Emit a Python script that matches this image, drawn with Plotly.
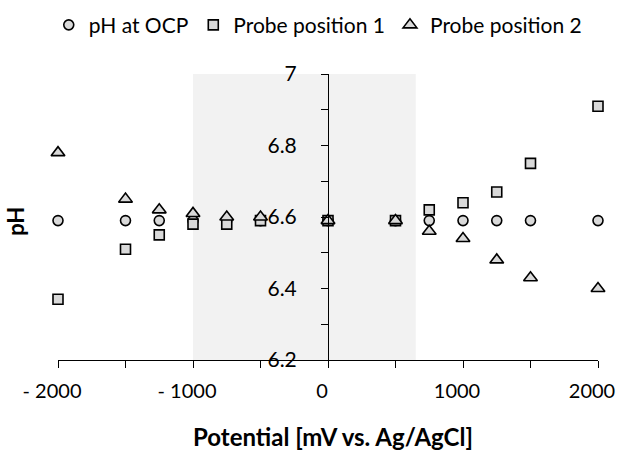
import plotly.graph_objects as go

potential = [-2000, -1500, -1250, -1000, -750, -500, 0, 500, 750, 1000, 1250, 1500, 2000]
ph_ocp = [6.59, 6.59, 6.59, 6.59, 6.59, 6.59, 6.59, 6.59, 6.59, 6.59, 6.59, 6.59, 6.59]
probe1 = [6.37, 6.51, 6.55, 6.58, 6.58, 6.59, 6.59, 6.59, 6.62, 6.64, 6.67, 6.75, 6.91]
probe2 = [6.78, 6.65, 6.62, 6.61, 6.60, 6.60, 6.59, 6.59, 6.56, 6.54, 6.48, 6.43, 6.40]

x_tickvals = [-2000, -1500, -1000, -500, 0, 500, 1000, 1500, 2000]
x_ticktext = ["- 2000", "", "- 1000", "", "0", "", "1000", "", "2000"]
y_tickvals = [6.2, 6.3, 6.4, 6.5, 6.6, 6.7, 6.8, 6.9, 7.0]
y_ticktext = ["6.2", "", "6.4", "", "6.6", "", "6.8", "", "7"]
shade_range = [-1000, 650]

FONT = "Lato"
fill = "#d9d9d9"
line = dict(color="black", width=1.6)

fig = go.Figure()
fig.add_trace(go.Scatter(x=potential, y=ph_ocp, mode="markers", name="pH at OCP", cliponaxis=False,
                         marker=dict(symbol="circle", size=10, color=fill, line=line)))
fig.add_trace(go.Scatter(x=potential, y=probe1, mode="markers", name="Probe position 1", cliponaxis=False,
                         marker=dict(symbol="square", size=10, color=fill, line=line)))
fig.add_trace(go.Scatter(x=potential, y=probe2, mode="markers", name="Probe position 2", cliponaxis=False,
                         marker=dict(symbol="triangle-up", size=12, color=fill, line=line)))

fig.add_shape(type="rect", xref="x", yref="y", x0=shade_range[0], x1=shade_range[1],
              y0=6.2, y1=7.0, fillcolor="#f2f2f2", line=dict(width=0), layer="below")

fig.update_layout(
    width=617, height=450,
    margin=dict(l=58, r=19, t=74, b=90, autoexpand=False),
    plot_bgcolor="white", paper_bgcolor="white",
    font=dict(family=FONT, size=21, color="black"),
    showlegend=True,
    legend=dict(orientation="h", x=0.515, xanchor="center", xref="container",
                y=0.944, yanchor="middle", yref="container",
                font=dict(size=21), itemsizing="trace", traceorder="normal",
                bgcolor="rgba(0,0,0,0)"),
    xaxis=dict(range=[-2000, 2000], tickvals=x_tickvals, ticktext=x_ticktext,
               ticks="outside", ticklen=7, tickcolor="black", tickwidth=1,
               showline=True, linecolor="black", linewidth=1, showgrid=False,
               zeroline=False, tickfont=dict(size=20), ticklabelstandoff=6,
               ticklabelshift=-6, ticklabeloverflow="allow", automargin=False),
    yaxis=dict(range=[6.2, 7.0], tickvals=y_tickvals, ticktext=y_ticktext,
               ticks="outside", ticklen=7, tickcolor="black", tickwidth=1,
               showline=True, linecolor="black", linewidth=1, showgrid=False,
               zeroline=False, anchor="free", position=0.5,
               tickfont=dict(size=21), ticklabelstandoff=20,
               ticklabeloverflow="allow", automargin=False),
)

fig.add_annotation(text="<b>pH</b>", xref="paper", yref="paper", x=-0.08, y=0.486,
                   textangle=-90, showarrow=False, font=dict(size=22),
                   xanchor="center", yanchor="middle")
fig.add_annotation(text="<b>Potential [mV vs. Ag/AgCl]</b>", xref="paper", yref="paper",
                   x=0.51, y=-0.266, showarrow=False, font=dict(size=24),
                   xanchor="center", yanchor="middle")

fig.write_html("out.html", config={"displayModeBar": False},
               post_script="document.body.style.margin='0';")
